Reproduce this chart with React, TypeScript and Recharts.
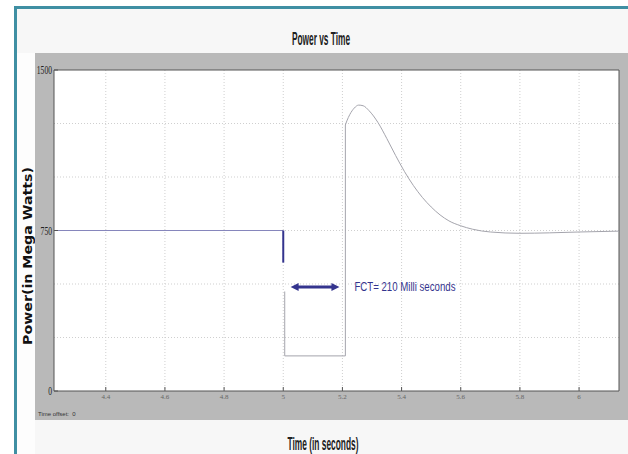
import { LineChart, Line, XAxis, YAxis, CartesianGrid, ReferenceArea, ReferenceLine } from 'recharts';

// pre-fault steady state
const preFaultTime = [4.225, 5.0];
const preFaultPower = [750, 750];

// short transient at the instant of the fault
const blipTime = [5.0, 5.0];
const blipPower = [750, 600];

// fault period until clearing
const faultTime = [5.005, 5.005, 5.21, 5.21];
const faultPower = [465, 164, 164, 1243];

// recovery after clearing
const recoveryTime = [
  5.21, 5.215, 5.225, 5.24, 5.255, 5.27, 5.29, 5.32, 5.35, 5.38, 5.41, 5.44,
  5.47, 5.5, 5.53, 5.56, 5.6, 5.64, 5.7, 5.8, 5.9, 6.0, 6.135,
];
const recoveryPower = [
  1243, 1262, 1292, 1322, 1336, 1333, 1310, 1255, 1180, 1100, 1025, 960,
  905, 860, 823, 795, 772, 756, 743, 737, 739, 743, 747,
];

const xTicks = [4.4, 4.6, 4.8, 5, 5.2, 5.4, 5.6, 5.8, 6];
const yTicks = [0, 750, 1500];
const yGrid = [250, 500, 750, 1000, 1250];

const X_DOMAIN: [number, number] = [4.225, 6.135];
const Y_DOMAIN: [number, number] = [0, 1500];

// fault clearing time annotation
const fctStart = 5.025;
const fctEnd = 5.19;
const fctLevel = 486;
const fctText = 'FCT= 210 Milli seconds';

const toRows = (t: number[], p: number[]) => t.map((x, i) => ({ t: x, p: p[i] }));

const preFault = toRows(preFaultTime, preFaultPower);
const blip = toRows(blipTime, blipPower);
const fault = toRows(faultTime, faultPower);
const recovery = toRows(recoveryTime, recoveryPower);

const NAVY = '#34348e';
const TRACE = '#a4a4ac';

const XTick = (props: any) => {
  const { x, y, payload } = props;
  return (
    <g>
      <line x1={x} y1={y - 3} x2={x} y2={y - 7} stroke="#555" strokeWidth={1} />
      <text x={x} y={y + 5} textAnchor="middle" fontSize={7} fill="#666" fontFamily="'Liberation Serif', serif">
        {payload.value}
      </text>
    </g>
  );
};

const YTick = (props: any) => {
  const { x, y, payload } = props;
  return (
    <g>
      <line x1={x + 2} y1={y} x2={x + 6} y2={y} stroke="#555" strokeWidth={1} />
      <text x={x} y={y + 4} textAnchor="end" fontSize={12} fill="#222" fontFamily="'Liberation Serif', serif"
        textLength={String(payload.value).length * 3.8} lengthAdjust="spacingAndGlyphs">
        {payload.value}
      </text>
    </g>
  );
};

const FctArrow = (props: any) => {
  const { x1, y1, x2 } = props;
  const h = 4;
  return (
    <g>
      <line x1={x1 + 5} y1={y1} x2={x2 - 5} y2={y1} stroke={NAVY} strokeWidth={3} />
      <polygon points={`${x1},${y1} ${x1 + 8},${y1 - h} ${x1 + 8},${y1 + h}`} fill={NAVY} />
      <polygon points={`${x2},${y1} ${x2 - 8},${y1 - h} ${x2 - 8},${y1 + h}`} fill={NAVY} />
      <text
        x={x2 + 15}
        y={y1 + 4}
        fontSize={12}
        fill={NAVY}
        fontFamily="'Liberation Sans Narrow', 'Liberation Sans', sans-serif"
        textLength={101}
        lengthAdjust="spacingAndGlyphs"
      >
        {fctText}
      </text>
    </g>
  );
};

export default function App() {
  return (
    <div style={{ position: 'absolute', left: 0, top: 0, width: 628, height: 454, background: '#fff', overflow: 'hidden' }}>
      <div
        style={{
          position: 'absolute', left: 14, top: 6, width: 614, height: 448, boxSizing: 'border-box',
          borderLeft: '3px solid #3f8fa3', borderTop: '3px solid #3f8fa3', background: '#f7f7f7',
        }}
      />
      <div style={{ position: 'absolute', left: 17, top: 53, width: 18, height: 401, background: '#fdfdfd' }} />
      <svg width={628} height={454} style={{ position: 'absolute', left: 0, top: 0 }}>
        <text x={321} y={45} textAnchor="middle" fontSize={19} fontWeight="bold" fill="#222"
          fontFamily="'Liberation Sans Narrow', sans-serif" textLength={58} lengthAdjust="spacingAndGlyphs">
          Power vs Time
        </text>
        <text x={323} y={450} textAnchor="middle" fontSize={19} fontWeight="bold" fill="#222"
          fontFamily="'Liberation Sans Narrow', sans-serif" textLength={71} lengthAdjust="spacingAndGlyphs">
          Time (in seconds)
        </text>
        <text x={0} y={0} transform="translate(32 256) rotate(-90)" textAnchor="middle" fontSize={13} fontWeight="bold"
          fill="#111" fontFamily="'DejaVu Sans', sans-serif" textLength={178} lengthAdjust="spacingAndGlyphs">
          Power(in Mega Watts)
        </text>
      </svg>
      <div style={{ position: 'absolute', left: 35, top: 53, width: 593, height: 367, background: '#b9b9b9' }}>
        <LineChart width={593} height={367} margin={{ top: 17, right: 9, left: 0, bottom: 0 }}>
          <CartesianGrid
            fill="#fff"
            stroke="#cfcfcf"
            strokeDasharray="1 2"
            horizontalValues={yGrid}
            verticalValues={xTicks}
          />
          <XAxis
            dataKey="t"
            type="number"
            domain={X_DOMAIN}
            ticks={xTicks}
            allowDataOverflow
            height={29}
            tickSize={0}
            tickMargin={3}
            axisLine={false}
            tick={<XTick />}
          />
          <YAxis
            dataKey="p"
            type="number"
            domain={Y_DOMAIN}
            ticks={yTicks}
            width={19}
            tickSize={0}
            tickMargin={2}
            axisLine={false}
            tick={<YTick />}
          />
          <ReferenceArea x1={X_DOMAIN[0]} x2={X_DOMAIN[1]} y1={0} y2={1500} fill="none" stroke="#555" strokeWidth={1} />
          <Line data={preFault} dataKey="p" type="linear" stroke="#8686bc" strokeWidth={1} dot={false} isAnimationActive={false} />
          <Line data={fault} dataKey="p" type="linear" stroke={TRACE} strokeWidth={1} dot={false} isAnimationActive={false} />
          <Line data={recovery} dataKey="p" type="monotone" stroke={TRACE} strokeWidth={1} dot={false} isAnimationActive={false} />
          <Line data={blip} dataKey="p" type="linear" stroke={NAVY} strokeWidth={2} dot={false} isAnimationActive={false} />
          <ReferenceLine
            segment={[{ x: fctStart, y: fctLevel }, { x: fctEnd, y: fctLevel }]}
            shape={<FctArrow />}
          />
        </LineChart>
      </div>
      <div style={{ position: 'absolute', left: 38, top: 411, fontSize: 6, color: '#333', fontFamily: "'Liberation Sans', sans-serif" }}>
        Time offset:&nbsp;&nbsp;0
      </div>
    </div>
  );
}
